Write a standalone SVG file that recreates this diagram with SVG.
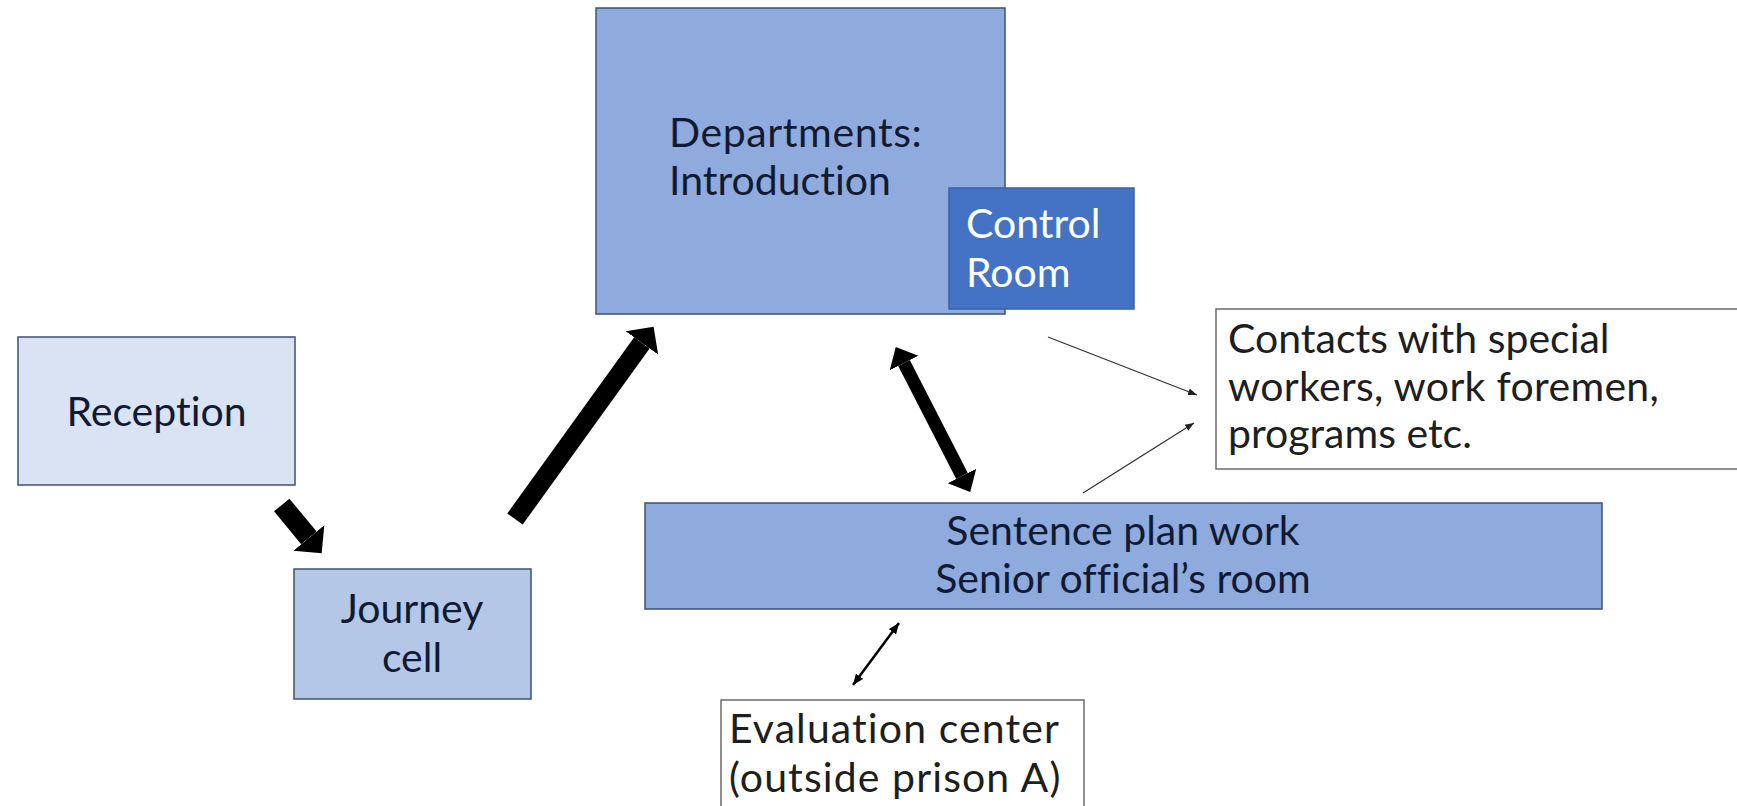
<svg xmlns="http://www.w3.org/2000/svg" width="1737" height="806" viewBox="0 0 1737 806">
  <style>
    .box { stroke: #3e5274; stroke-width: 1.5; }
    .plain { fill: #ffffff; stroke: #6b6b6b; stroke-width: 1.5; }
    text { font-family: Lato, "Liberation Sans", sans-serif; font-size: 41px; font-variant-ligatures: none; }
    .t { fill: #111a33; }
    .tw { fill: #ffffff; }
    .tk { fill: #1e1e1e; }
    .mid { text-anchor: middle; }
    .thick { stroke: #000000; fill: none; stroke-linecap: butt; }
    .thin { stroke: #333333; stroke-width: 1.3; fill: none; }
  </style>
  <defs>
    <marker id="headBig" markerUnits="userSpaceOnUse" markerWidth="22" markerHeight="42" viewBox="0 -21 22 42" refX="0" refY="0" orient="auto">
      <path d="M0,-20 L20,0 L0,20 Z" fill="#000000"/>
    </marker>
    <marker id="headMid" markerUnits="userSpaceOnUse" markerWidth="20" markerHeight="34" viewBox="0 -17 20 34" refX="0" refY="0" orient="auto-start-reverse">
      <path d="M0,-16 L18,0 L0,16 Z" fill="#000000"/>
    </marker>
    <marker id="headThin" markerUnits="userSpaceOnUse" markerWidth="10" markerHeight="8" viewBox="0 -4 10 8" refX="9" refY="0" orient="auto-start-reverse">
      <path d="M0,-3.5 L9,0 L0,3.5 Z" fill="#222222"/>
    </marker>
    <marker id="headSmall" markerUnits="userSpaceOnUse" markerWidth="12" markerHeight="10" viewBox="0 -5 12 10" refX="11" refY="0" orient="auto-start-reverse">
      <path d="M0,-4.5 L11,0 L0,4.5 Z" fill="#000000"/>
    </marker>
  </defs>

  <rect width="1737" height="806" fill="#ffffff"/>

  <g id="departments">
    <rect class="box" x="596" y="8" width="409" height="306" fill="#8faadc"/>
    <text class="t" x="669" y="147" letter-spacing="0.6">Departments:</text>
    <text class="t" x="669" y="195">Introduction</text>
  </g>

  <g id="control-room">
    <rect x="949" y="188" width="185" height="121" fill="#4472c4" stroke="#3a62a8" stroke-width="1.5"/>
    <text class="tw" x="966" y="238">Control</text>
    <text class="tw" x="966" y="287">Room</text>
  </g>

  <g id="reception">
    <rect class="box" x="18" y="337" width="277" height="148" fill="#dae3f3"/>
    <text class="t mid" x="156.5" y="426">Reception</text>
  </g>

  <g id="journey-cell">
    <rect class="box" x="294" y="569" width="237" height="130" fill="#b4c7e7"/>
    <text class="t mid" x="412" y="623">Journey</text>
    <text class="t mid" x="412" y="672">cell</text>
  </g>

  <g id="contacts">
    <rect class="plain" x="1216" y="309" width="530" height="160"/>
    <text class="tk" x="1228" y="353">Contacts with special</text>
    <text class="tk" x="1228" y="401" letter-spacing="0.3">workers, work foremen,</text>
    <text class="tk" x="1228" y="448">programs etc.</text>
  </g>

  <g id="sentence-plan">
    <rect class="box" x="645" y="503" width="957" height="106" fill="#8faadc"/>
    <text class="t mid" x="1123" y="545">Sentence plan work</text>
    <text class="t mid" x="1123" y="593">Senior official’s room</text>
  </g>

  <g id="evaluation-center">
    <rect class="plain" x="721" y="700" width="363" height="130"/>
    <text class="tk" x="729" y="743" letter-spacing="1.1">Evaluation center</text>
    <text class="tk" x="729" y="792" letter-spacing="1.1">(outside prison A)</text>
  </g>

  <g id="connectors">
    <line class="thick" x1="281.7" y1="505" x2="308.9" y2="537.9" stroke-width="20" marker-end="url(#headBig)"/>
    <line class="thick" x1="515" y1="519" x2="641.9" y2="342.9" stroke-width="19" marker-end="url(#headBig)"/>
    <line class="thick" x1="904" y1="363" x2="962" y2="476" stroke-width="13" marker-start="url(#headMid)" marker-end="url(#headMid)"/>
    <line class="thin" x1="1048" y1="337" x2="1197" y2="395" marker-end="url(#headThin)"/>
    <line class="thin" x1="1083" y1="493" x2="1194" y2="423" marker-end="url(#headThin)"/>
    <line x1="853" y1="685" x2="899" y2="623" stroke="#000000" stroke-width="2.5" marker-start="url(#headSmall)" marker-end="url(#headSmall)"/>
  </g>
</svg>
